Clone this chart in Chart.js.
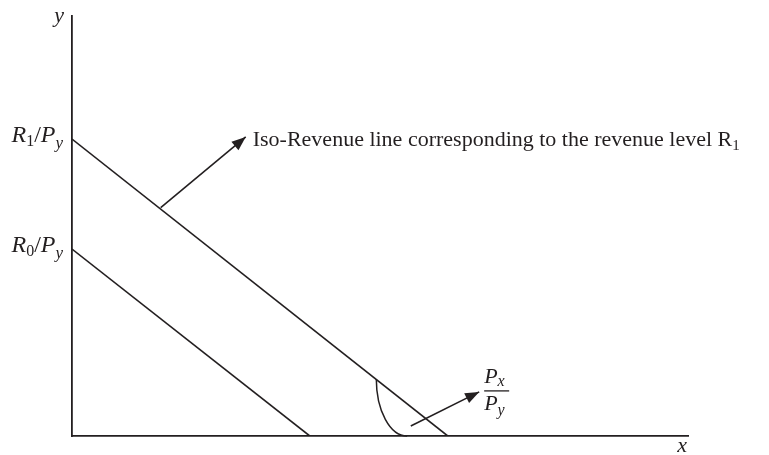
<!DOCTYPE html>
<html>
<head>
<meta charset="utf-8">
<script src="https://cdn.jsdelivr.net/npm/chart.js@4/dist/chart.umd.min.js"></script>
<style>
  html, body { margin: 0; padding: 0; background: #ffffff; }
  canvas { display: block; }
</style>
</head>
<body>
<canvas id="c" width="769" height="455"></canvas>
<script>
// ---- data (in chart units) ----
const lineNames   = ['R1', 'R0'];
const yIntercepts = [7.07, 4.45];   // R/Py on the y axis
const xIntercepts = [6.10, 3.86];   // R/Px on the x axis
const axisMaxX = 10;
const axisMaxY = 10;
const calloutArrow = [[1.44, 5.44], [2.82, 7.12]];  // from the R1 line to the label
const slopeArrow   = [[5.50, 0.24], [6.61, 1.05]];  // to the Px/Py label
const angleArc     = { cx: 5.44, cy: 1.36, rx: 0.50, ry: 1.36 }; // quarter ellipse marking the angle
const calloutText  = 'Iso-Revenue line corresponding to the revenue level R';
const calloutSub   = '1';

const INK = '#231f20';
const SERIF = '"Liberation Serif", "Times New Roman", serif';

function font(size, italic) { return (italic ? 'italic ' : '') + size + 'px ' + SERIF; }

// draw rich text parts: {t, it, sz, dy}
function drawRich(ctx, parts, x, y, align) {
  let w = 0;
  parts.forEach(p => { ctx.font = font(p.sz, p.it); p.w = ctx.measureText(p.t).width + (p.kern || 0); w += p.w; });
  let cx = align === 'right' ? x - w : (align === 'center' ? x - w / 2 : x);
  ctx.textBaseline = 'alphabetic';
  ctx.textAlign = 'left';
  parts.forEach(p => {
    ctx.font = font(p.sz, p.it);
    ctx.fillText(p.t, cx + (p.dx || 0), y + (p.dy || 0));
    cx += p.w;
  });
  return w;
}

function arrowHead(ctx, x0, y0, x1, y1) {
  const a = Math.atan2(y1 - y0, x1 - x0);
  const L = 14, W = 5.5;
  ctx.beginPath();
  ctx.moveTo(x1, y1);
  ctx.lineTo(x1 - L * Math.cos(a) + W * Math.sin(a), y1 - L * Math.sin(a) - W * Math.cos(a));
  ctx.lineTo(x1 - L * Math.cos(a) - W * Math.sin(a), y1 - L * Math.sin(a) + W * Math.cos(a));
  ctx.closePath();
  ctx.fill();
}

const decor = {
  id: 'decor',
  afterDatasetsDraw(chart) {
    const ctx = chart.ctx;
    const xs = chart.scales.x, ys = chart.scales.y;
    const px = v => xs.getPixelForValue(v), py = v => ys.getPixelForValue(v);
    ctx.save();
    ctx.fillStyle = INK;
    ctx.strokeStyle = INK;

    // arrowheads
    [calloutArrow, slopeArrow].forEach(a => {
      arrowHead(ctx, px(a[0][0]), py(a[0][1]), px(a[1][0]), py(a[1][1]));
    });

    // angle arc (quarter ellipse)
    ctx.lineWidth = 1.5;
    ctx.beginPath();
    const ecx = px(angleArc.cx), ecy = py(angleArc.cy);
    const erx = px(angleArc.cx) - px(angleArc.cx - angleArc.rx);
    const ery = py(0) - py(angleArc.ry);
    ctx.ellipse(ecx, ecy, erx, ery, 0, Math.PI / 2, Math.PI);
    ctx.stroke();

    // axis names
    drawRich(ctx, [{ t: 'y', it: true, sz: 22 }], px(0) - 8, py(axisMaxY) + 6, 'right');
    drawRich(ctx, [{ t: 'x', it: true, sz: 22 }], px(axisMaxX) - 1, py(0) + 16, 'right');

    // intercept labels
    yIntercepts.forEach((v, i) => {
      drawRich(ctx, [
        { t: 'R', it: true, sz: 24 },
        { t: lineNames[i].slice(1), it: false, sz: 16, dy: 4 },
        { t: '/', it: false, sz: 24 },
        { t: 'P', it: true, sz: 24 },
        { t: 'y', it: true, sz: 17, dy: 6 }
      ], px(0) - 9, py(v) + 3, 'right');
    });

    // callout label
    const tx = px(calloutArrow[1][0]) + 7, ty = py(calloutArrow[1][1]) + 9;
    drawRich(ctx, [
      { t: calloutText, it: false, sz: 22 },
      { t: calloutSub, it: false, sz: 15, dy: 4 }
    ], tx, ty, 'left');

    // Px / Py fraction
    const fx = px(slopeArrow[1][0]) + 5, fy = py(slopeArrow[1][1]) - 1;
    ctx.lineWidth = 1.3;
    ctx.beginPath();
    ctx.moveTo(fx, fy);
    ctx.lineTo(fx + 25, fy);
    ctx.stroke();
    drawRich(ctx, [{ t: 'P', it: true, sz: 22 }, { t: 'x', it: true, sz: 16, dy: 3 }], fx, fy - 8, 'left');
    drawRich(ctx, [{ t: 'P', it: true, sz: 22 }, { t: 'y', it: true, sz: 16, dy: 5 }], fx, fy + 19, 'left');

    ctx.restore();
  }
};

const lineStyle = { borderColor: INK, borderWidth: 1.6, pointRadius: 0, showLine: true, fill: false, tension: 0 };

const datasets = yIntercepts.map((v, i) => Object.assign({
  label: lineNames[i],
  data: [{ x: 0, y: v }, { x: xIntercepts[i], y: 0 }]
}, lineStyle));
datasets.push(Object.assign({ label: 'callout', data: calloutArrow.map(p => ({ x: p[0], y: p[1] })) }, lineStyle));
datasets.push(Object.assign({ label: 'slope', data: slopeArrow.map(p => ({ x: p[0], y: p[1] })) }, lineStyle));

new Chart(document.getElementById('c'), {
  type: 'scatter',
  data: { datasets },
  options: {
    responsive: false,
    devicePixelRatio: 1,
    animation: false,
    layout: { padding: { left: 72, top: 16, right: 81, bottom: 19 } },
    plugins: { legend: { display: false }, tooltip: { enabled: false } },
    scales: {
      x: {
        type: 'linear', min: 0, max: axisMaxX,
        grid: { display: false, drawTicks: false },
        ticks: { display: false },
        border: { display: true, color: INK, width: 1.8 },
        afterFit: s => { s.height = 0; }
      },
      y: {
        type: 'linear', min: 0, max: axisMaxY,
        grid: { display: false, drawTicks: false },
        ticks: { display: false },
        border: { display: true, color: INK, width: 1.8 },
        afterFit: s => { s.width = 0; }
      }
    }
  },
  plugins: [decor]
});
</script>
</body>
</html>
